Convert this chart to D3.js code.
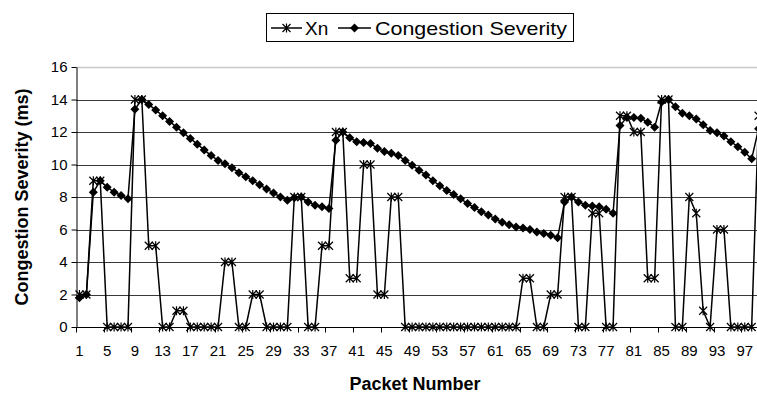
<!DOCTYPE html>
<html>
<head>
<meta charset="utf-8">
<script src="https://cdn.jsdelivr.net/npm/d3@7/dist/d3.min.js"></script>
<style>
    body { margin: 0; background: #fff; }
    svg { display: block; font-family: "Liberation Sans", Arial, sans-serif; }
</style>
</head>
<body>
<div id="chart"></div>
<script>
// packet numbers shown on the chart (the right end is cut off)
var packets = d3.range(1, 100);
var xTickLabels = [1, 5, 9, 13, 17, 21, 25, 29, 33, 37, 41, 45, 49, 53, 57, 61, 65, 69, 73, 77, 81, 85, 89, 93, 97];
var yTicks = [0, 2, 4, 6, 8, 10, 12, 14, 16];

var xn = [2, 2, 9, 9, 0, 0, 0, 0, 14, 14,
    5, 5, 0, 0, 1, 1, 0, 0, 0, 0,
    0, 4, 4, 0, 0, 2, 2, 0, 0, 0,
    0, 8, 8, 0, 0, 5, 5, 12, 12, 3,
    3, 10, 10, 2, 2, 8, 8, 0, 0, 0,
    0, 0, 0, 0, 0, 0, 0, 0, 0, 0,
    0, 0, 0, 0, 3, 3, 0, 0, 2, 2,
    8, 8, 0, 0, 7, 7, 0, 0, 13, 13,
    12, 12, 3, 3, 14, 14, 0, 0, 8, 7,
    1, 0, 6, 6, 0, 0, 0, 0, 13];

var severity = [1.8, 2.0, 8.3, 9.0, 8.6, 8.3, 8.1, 7.9, 13.4, 14.0,
    13.7, 13.35, 13.0, 12.65, 12.3, 11.95, 11.6, 11.25, 10.9, 10.55,
    10.25, 10.05, 9.8, 9.5, 9.25, 9.0, 8.75, 8.5, 8.25, 8.0,
    7.8, 7.95, 8.0, 7.7, 7.5, 7.4, 7.3, 11.5, 12.0, 11.65,
    11.4, 11.35, 11.3, 11.0, 10.8, 10.7, 10.55, 10.25, 9.95, 9.65,
    9.35, 9.0, 8.7, 8.4, 8.15, 7.9, 7.6, 7.35, 7.1, 6.9,
    6.65, 6.45, 6.3, 6.15, 6.1, 6.0, 5.85, 5.75, 5.65, 5.5,
    7.7, 8.0, 7.7, 7.5, 7.45, 7.4, 7.25, 7.0, 12.4, 12.9,
    12.9, 12.85, 12.6, 12.3, 13.85, 14.0, 13.55, 13.15, 13.0, 12.8,
    12.45, 12.1, 11.95, 11.75, 11.4, 11.1, 10.75, 10.35, 12.2];

function go() {
    var width = 757, height = 398;
    var left = 76, top = 67, bottom = 327;
    var band = 6.93;

    var svg = d3.select("#chart").append("svg")
        .attr("width", width)
        .attr("height", height);

    var x = d3.scaleBand()
        .domain(packets)
        .range([left, left + packets.length * band])
        .paddingInner(0).paddingOuter(0);
    var y = d3.scaleLinear().domain([0, 16]).range([bottom, top]);
    var cx = function (p) { return x(p) + x.bandwidth() / 2; };

    // gridlines
    svg.append("g").selectAll("line")
        .data(yTicks.filter(function (t) { return t > 0; }))
        .enter().append("line")
        .attr("x1", left).attr("x2", width)
        .attr("y1", function (d) { return Math.round(y(d)) + 0.5; })
        .attr("y2", function (d) { return Math.round(y(d)) + 0.5; })
        .attr("stroke", function (d) { return d === 16 ? "#c8c8c8" : "#3a3a3a"; })
        .attr("stroke-width", function (d) { return d === 16 ? 1.5 : 1; });

    // y axis
    var yAxis = svg.append("g")
        .attr("transform", "translate(" + (left + 0.5) + ",0)")
        .call(d3.axisLeft(y).tickValues(yTicks).tickSize(5).tickSizeOuter(0));
    yAxis.select(".domain").attr("stroke", "#000");
    yAxis.selectAll(".tick text").attr("font-size", 15).attr("fill", "#000").attr("x", -9)
        .attr("font-family", "Liberation Sans, Arial, sans-serif");

    // x axis: labels centred on packets, tick marks on band edges
    var xAxis = svg.append("g")
        .attr("transform", "translate(0," + (bottom + 0.5) + ")");
    xAxis.append("line")
        .attr("x1", left).attr("x2", width)
        .attr("stroke", "#000");
    xAxis.selectAll(".tickmark")
        .data(xTickLabels)
        .enter().append("line")
        .attr("x1", function (d) { return Math.round(x(d)) + 0.5; })
        .attr("x2", function (d) { return Math.round(x(d)) + 0.5; })
        .attr("y1", 0).attr("y2", 5)
        .attr("stroke", "#000");
    xAxis.selectAll(".lbl")
        .data(xTickLabels)
        .enter().append("text")
        .attr("x", cx)
        .attr("y", 28)
        .attr("text-anchor", "middle")
        .attr("font-size", 15)
        .text(function (d) { return d; });

    // axis titles
    svg.append("text")
        .attr("x", 415).attr("y", 390)
        .attr("text-anchor", "middle")
        .attr("font-size", 18).attr("font-weight", "bold")
        .text("Packet Number");
    svg.append("text")
        .attr("transform", "translate(28," + ((top + bottom) / 2) + ") rotate(-90)")
        .attr("text-anchor", "middle")
        .attr("font-size", 18).attr("font-weight", "bold")
        .text("Congestion Severity (ms)");

    var starPath = "M-4,-4L4,4M-4,4L4,-4M0,-4.5L0,4.5";
    var diamondPath = "M0,-4.5L4.5,0L0,4.5L-4.5,0Z";

    var line = d3.line()
        .x(function (d) { return cx(d.p); })
        .y(function (d) { return y(d.v); });

    function series(values) {
        return packets.map(function (p, i) { return { p: p, v: values[i] }; });
    }

    var sevData = series(severity);
    var xnData = series(xn);

    var plot = svg.append("g");

    plot.append("path").datum(xnData)
        .attr("d", line).attr("fill", "none")
        .attr("stroke", "#000").attr("stroke-width", 1.5);
    plot.append("path").datum(sevData)
        .attr("d", line).attr("fill", "none")
        .attr("stroke", "#000").attr("stroke-width", 1.5);

    plot.selectAll(".dia")
        .data(sevData)
        .enter().append("path")
        .attr("transform", function (d) { return "translate(" + cx(d.p) + "," + y(d.v) + ")"; })
        .attr("d", diamondPath)
        .attr("fill", "#000");

    plot.selectAll(".star")
        .data(xnData)
        .enter().append("path")
        .attr("transform", function (d) { return "translate(" + cx(d.p) + "," + y(d.v) + ")"; })
        .attr("d", starPath)
        .attr("fill", "none")
        .attr("stroke", "#000").attr("stroke-width", 1.2);

    // legend
    var lg = svg.append("g");
    lg.append("rect")
        .attr("x", 266.5).attr("y", 13.5)
        .attr("width", 307).attr("height", 28)
        .attr("fill", "#fff").attr("stroke", "#000");
    lg.append("line").attr("x1", 271).attr("x2", 302).attr("y1", 28).attr("y2", 28)
        .attr("stroke", "#000").attr("stroke-width", 1.5);
    lg.append("path").attr("transform", "translate(286.5,28)").attr("d", starPath)
        .attr("fill", "none").attr("stroke", "#000").attr("stroke-width", 1.2);
    lg.append("text").attr("x", 305).attr("y", 34.5).attr("font-size", 19).text("Xn");
    lg.append("line").attr("x1", 338).attr("x2", 371).attr("y1", 28).attr("y2", 28)
        .attr("stroke", "#000").attr("stroke-width", 1.5);
    lg.append("path").attr("transform", "translate(354.5,28)").attr("d", diamondPath)
        .attr("fill", "#000");
    lg.append("text").attr("x", 375).attr("y", 34.5).attr("font-size", 19)
        .attr("textLength", 192).attr("lengthAdjust", "spacingAndGlyphs")
        .text("Congestion Severity");
}

document.addEventListener("DOMContentLoaded", function () {
    go();
});
</script>
</body>
</html>
